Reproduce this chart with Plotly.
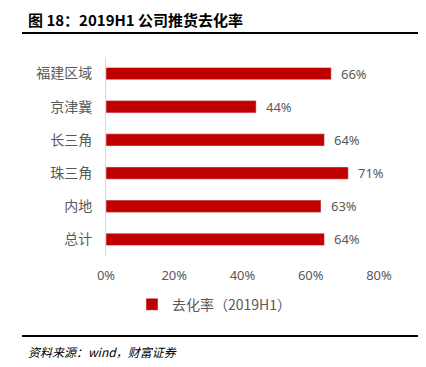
import plotly.graph_objects as go

categories = ["福建区域", "京津冀", "长三角", "珠三角", "内地", "总计"]
values = [0.66, 0.44, 0.64, 0.71, 0.63, 0.64]
labels = ["66%", "44%", "64%", "71%", "63%", "64%"]
x_ticks = [0, 0.2, 0.4, 0.6, 0.8]
x_tick_labels = ["0%", "20%", "40%", "60%", "80%"]
series_name = "去化率（2019H1）"
title_text = "图 18：2019H1 公司推货去化率"
source_text = "资料来源：wind，财富证券"

fig = go.Figure()
fig.add_trace(go.Bar(
    y=categories, x=values, orientation="h", name=series_name,
    marker=dict(color="#C00000"),
))
for c, v, t in zip(categories, values, labels):
    fig.add_annotation(x=v, y=c, text=t, xref="x", yref="y", showarrow=False,
                       xanchor="left", yanchor="middle", xshift=8,
                       font=dict(color="#595959", size=13, family="Noto Sans"))

L, R, T, B = 106, 47, 57, 111
fig.update_layout(
    width=426, height=367,
    margin=dict(l=L, r=R, t=T, b=B, autoexpand=False),
    plot_bgcolor="white", paper_bgcolor="white",
    bargap=0.63,
    showlegend=True,
    legend=dict(orientation="h", x=(132 - L) / (426 - L - R), xanchor="left",
                y=-0.245, yanchor="middle", itemwidth=30,
                font=dict(color="#595959", size=14, family="Noto Sans CJK SC")),
    font=dict(family="Noto Sans CJK SC", color="#595959"),
)
fig.update_xaxes(range=[0, 0.8], tickvals=x_ticks, ticktext=x_tick_labels,
                 showgrid=False, zeroline=False, showline=False, automargin=False,
                 tickfont=dict(size=13, color="#595959", family="Noto Sans"),
                 ticks="", ticklen=0, ticklabelstandoff=10)
fig.update_yaxes(autorange="reversed", showgrid=False, showline=True, automargin=False,
                 linecolor="#D9D9D9", linewidth=1, ticks="", ticklabelstandoff=10,
                 tickfont=dict(size=14, color="#595959", family="Noto Sans CJK SC"))

h = 367 - T - B
w = 426 - L - R
def px(xp):
    return (xp - L) / w
def py(yp):
    return (367 - B - yp) / h

fig.add_shape(type="line", xref="paper", yref="paper",
              x0=px(22), x1=px(418), y0=py(33), y1=py(33),
              line=dict(color="black", width=2))
fig.add_shape(type="line", xref="paper", yref="paper",
              x0=px(22), x1=px(418), y0=py(336), y1=py(336),
              line=dict(color="black", width=2))
fig.add_annotation(text="<b>" + title_text + "</b>", xref="paper", yref="paper",
                   x=px(26), y=py(19), xanchor="left", yanchor="middle",
                   showarrow=False, font=dict(size=15, color="black", family="Noto Sans CJK SC"))
fig.add_annotation(text="<i>" + source_text + "</i>", xref="paper", yref="paper",
                   x=px(26), y=py(351), xanchor="left", yanchor="middle",
                   showarrow=False, font=dict(size=12, color="black", family="Noto Sans CJK SC"))

fig.write_html("out.html", config={"displayModeBar": False},
               post_script="document.body.style.margin='0';")
